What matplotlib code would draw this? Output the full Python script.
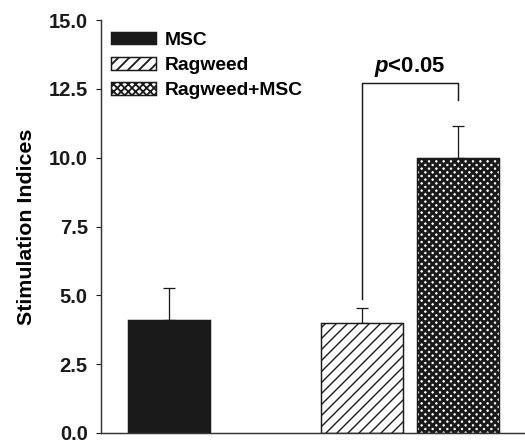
import numpy as np
import matplotlib
matplotlib.use("Agg")
import matplotlib.pyplot as plt

# data
groups = ["MSC", "Ragweed", "Ragweed+MSC"]
means = [4.1, 4.0, 10.0]
sems = [1.15, 0.55, 1.15]
xpos = [0, 2, 3]
hatches = [None, "////", "xxxxxx"]
hatch_lw = [0.8, 0.75, 1.6]
faces = ["#1a1a1a", "white", "white"]
yticks = [0.0, 2.5, 5.0, 7.5, 10.0, 12.5, 15.0]

# significance bracket (left leg bottom, top, right leg bottom)
brk_low = 4.85
brk_top = 12.7
brk_right_low = 12.1
sig_label = r"$p$<0.05"

DPI = 132  # hatch spacing follows the dpi
plt.rcParams["font.family"] = ["Liberation Sans", "DejaVu Sans"]
plt.rcParams["font.weight"] = "bold"
plt.rcParams["mathtext.fontset"] = "custom"
plt.rcParams["mathtext.it"] = "Liberation Sans:italic:bold"
plt.rcParams["mathtext.rm"] = "Liberation Sans:bold"
plt.rcParams["hatch.color"] = "#1a1a1a"

fig = plt.figure(figsize=(525 / DPI, 444 / DPI), dpi=DPI)
ax = fig.add_axes([101 / 525, 11 / 444, 424 / 525, 413 / 444])

for i in range(3):
    with plt.rc_context({"hatch.linewidth": hatch_lw[i]}):
        ax.bar(xpos[i], means[i], width=0.85, color=faces[i],
               edgecolor="#1a1a1a", linewidth=0.8, hatch=hatches[i],
               label=groups[i], zorder=2)
    ax.errorbar(xpos[i], means[i], yerr=[[0], [sems[i]]], fmt="none",
                ecolor="#1a1a1a", elinewidth=0.7, capsize=3.2, capthick=0.7,
                zorder=1)

# bracket
ax.plot([xpos[1], xpos[1], xpos[2], xpos[2]],
        [brk_low, brk_top, brk_top, brk_right_low],
        color="#1a1a1a", lw=0.8)
ax.text((xpos[1] + xpos[2]) / 2, brk_top + 0.4, sig_label,
        ha="center", va="baseline", fontsize=12, fontweight="bold")

ax.set_xlim(-0.706, 3.697)
ax.set_ylim(0, 15)
ax.set_yticks(yticks)
ax.set_yticklabels(["%.1f" % v for v in yticks])
ax.set_xticks([])
ax.tick_params(axis="y", direction="out", length=2.7, width=0.6,
               labelsize=11, pad=4.5, colors="#1a1a1a")
for s in ["top", "right"]:
    ax.spines[s].set_visible(False)
for s in ["left", "bottom"]:
    ax.spines[s].set_linewidth(0.8)
    ax.spines[s].set_color("#333333")
ax.set_ylabel("Stimulation Indices", fontsize=11.7, fontweight="bold",
              labelpad=7)

ax.legend(loc="upper left", bbox_to_anchor=(-0.003, 1.0), frameon=False,
          fontsize=10.5, handlelength=2.3, handleheight=0.65,
          handletextpad=0.5, labelspacing=0.42, borderaxespad=0.3,
          borderpad=0.3)

fig.savefig("out.png", dpi=DPI)
